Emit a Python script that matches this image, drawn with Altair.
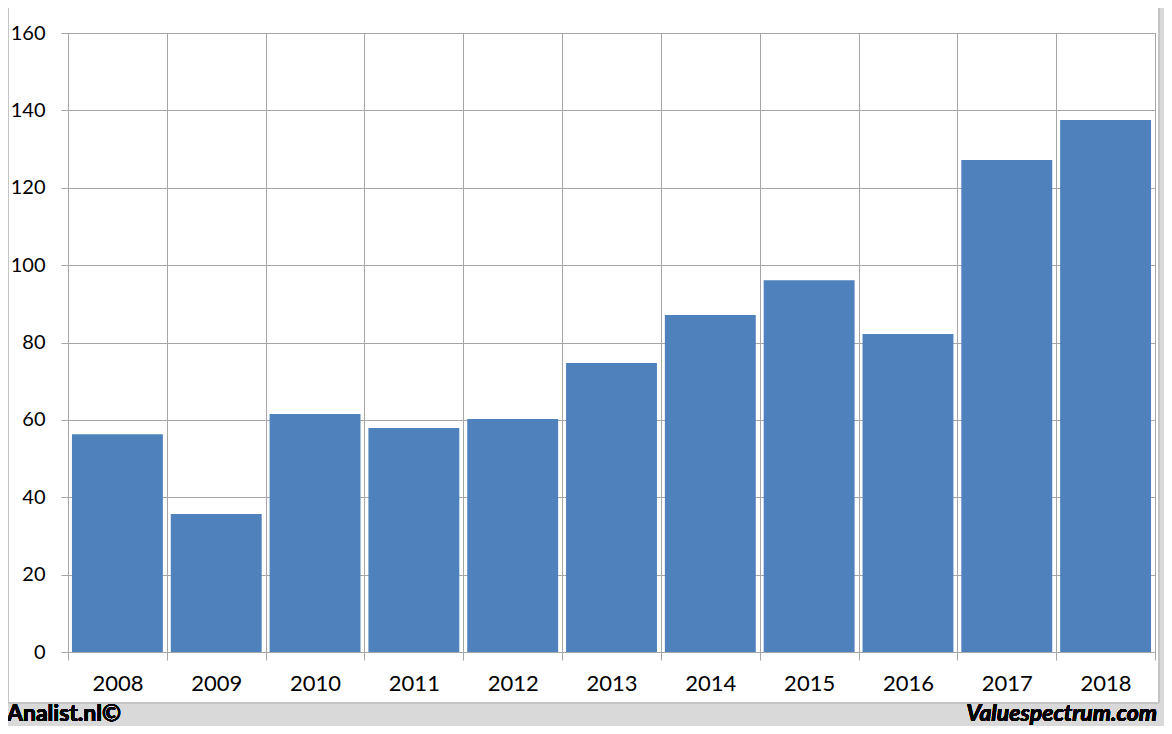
import altair as alt
import pandas as pd

years = ["2008", "2009", "2010", "2011", "2012", "2013", "2014", "2015", "2016", "2017", "2018"]
values = [56.3, 35.7, 61.5, 57.9, 60.2, 74.7, 87.1, 96.1, 82.2, 127.2, 137.5]
y_ticks = [0, 20, 40, 60, 80, 100, 120, 140, 160]
left_note = "Analist.nl©"
right_note = "Valuespectrum.com"

df = pd.DataFrame({"year": years, "value": values})

GRID = "#a6a6a6"
FONT = "Lato"

x_enc = alt.X(
    "year:O",
    scale=alt.Scale(paddingInner=0, paddingOuter=0),
    axis=alt.Axis(
        title=None, labelAngle=0, tickBand="extent", grid=True,
        gridColor=GRID, domainColor=GRID, tickColor=GRID, tickSize=8,
        labelPadding=13, labelFontSize=22, labelFont=FONT, labelColor="black",
    ),
)
y_enc = alt.Y(
    "value:Q",
    scale=alt.Scale(domain=[0, 160], nice=False),
    axis=alt.Axis(
        title=None, values=y_ticks, grid=True, gridColor=GRID, domainColor=GRID,
        tickColor=GRID, tickSize=7, labelPadding=16, labelFontSize=20,
        labelFont=FONT, labelColor="black",
    ),
)

bars = alt.Chart(df).mark_bar(color="#4f81bd", width=alt.RelativeBandSize(0.92)).encode(
    x=x_enc, y=y_enc
)

frame_bottom = alt.Chart(df).mark_rect(color="#d9d9d9").encode(
    x=alt.value(-70), x2=alt.value(1100), y=alt.value(670), y2=alt.value(700)
)
frame_right = alt.Chart(df).mark_rect(color="#d9d9d9").encode(
    x=alt.value(1092), x2=alt.value(1100), y=alt.value(-30), y2=alt.value(700)
)
panel = alt.Chart(df).mark_rect(fillOpacity=0, stroke="#c4c4c4", strokeWidth=1).encode(
    x=alt.value(-60), x2=alt.value(1091), y=alt.value(-26), y2=alt.value(670)
)
note_l = alt.Chart(df).mark_text(
    text=left_note, align="left", baseline="alphabetic", font=FONT, fontSize=23,
    fontWeight="bold", color="black",
).encode(x=alt.value(-61), y=alt.value(688))
note_r = alt.Chart(df).mark_text(
    text=right_note, align="right", baseline="alphabetic", font=FONT, fontSize=23,
    fontWeight="bold", fontStyle="italic", color="black",
).encode(x=alt.value(1089), y=alt.value(688))

chart = (
    alt.layer(bars, frame_bottom, frame_right, panel, note_l, note_r)
    .properties(
        width=1087, height=619,
        autosize=alt.AutoSizeParams(type="none"),
        padding={"left": 60, "top": 25, "right": 9, "bottom": 74},
        background="white",
    )
    .configure_view(stroke=GRID)
)

chart.save("out.html", embed_options={"renderer": "svg", "actions": False})
